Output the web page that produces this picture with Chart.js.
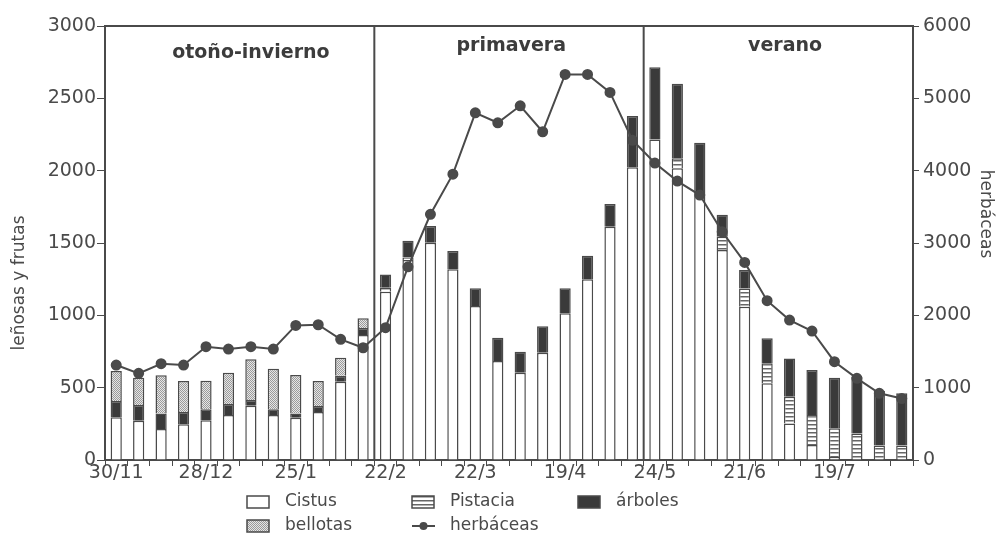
<!DOCTYPE html>
<html>
<head>
<meta charset="utf-8">
<script src="https://cdn.jsdelivr.net/npm/chart.js@4.4.1/dist/chart.umd.min.js"></script>
<style>
    html, body { margin: 0; padding: 0; background: #fff; }
    #wrap { width: 1002px; height: 537px; }
</style>
</head>
<body>
<div id="wrap"><canvas id="grafico"></canvas></div>
<script>
// etiquetas del eje x (una por semana, solo algunas con texto)
var semanas = ['30/11', '', '', '', '28/12', '', '', '', '25/1', '', '', '',
    '22/2', '', '', '', '22/3', '', '', '', '19/4', '', '', '',
    '24/5', '', '', '', '21/6', '', '', '', '19/7', '', '', ''];

// leñosas y frutas (eje izquierdo)
var cistus = [295, 272, 214, 247, 274, 311, 375, 311, 292, 332, 541, 864,
    1163, 1382, 1502, 1318, 1064, 684, 603, 741, 1014, 1249, 1612, 2023,
    2216, 2016, 1831, 1451, 1059, 530, 253, 104, 20, 0, 0, 0];
var pistacia = [0, 0, 0, 0, 0, 0, 0, 0, 0, 0, 0, 0,
    28, 18, 0, 0, 0, 0, 0, 0, 0, 0, 0, 0,
    0, 69, 0, 92, 127, 138, 184, 207, 200, 184, 100, 100];
var arboles = [113, 108, 108, 85, 76, 76, 39, 39, 30, 41, 41, 48,
    92, 115, 115, 126, 123, 161, 146, 184, 173, 163, 157, 355,
    498, 515, 362, 152, 127, 173, 265, 311, 348, 392, 378, 361];
var bellotas = [207, 189, 263, 214, 198, 216, 282, 281, 265, 173, 125, 67,
    0, 0, 0, 0, 0, 0, 0, 0, 0, 0, 0, 0,
    0, 0, 0, 0, 0, 0, 0, 0, 0, 0, 0, 0];

// herbáceas (eje derecho)
var herbaceas = [1313, 1198, 1331, 1313, 1566, 1534, 1566, 1534, 1861, 1870, 1668, 1552,
    1829, 2671, 3397, 3952, 4800, 4662, 4897, 4538, 5330, 5330, 5082, 4420,
    4105, 3856, 3663, 3155, 2732, 2202, 1935, 1783, 1359, 1129, 922, 850];

var estaciones = ['otoño-invierno', 'primavera', 'verano'];

var gris = '#4a4a4a';
var negro = '#3a3a3a';
var fuente = 'DejaVu Sans';

// tramas de relleno
function trama(tipo) {
    var c = document.createElement('canvas');
    var g = c.getContext('2d');
    if (tipo == 'rayas') {
        c.width = 4; c.height = 4;
        g.fillStyle = '#fff'; g.fillRect(0, 0, 4, 4);
        g.fillStyle = '#666'; g.fillRect(0, 0, 4, 1.5);
    } else {
        // punteado fino
        c.width = 2; c.height = 2;
        g.fillStyle = '#e6e6e6'; g.fillRect(0, 0, 2, 2);
        g.fillStyle = '#9a9a9a';
        g.fillRect(0, 0, 1, 1); g.fillRect(1, 1, 1, 1);
    }
    return document.createElement('canvas').getContext('2d').createPattern(c, 'repeat');
}
var rayas = trama('rayas');
var puntos = trama('puntos');

// lineas divisorias, estaciones, leyenda y titulos
var extras = {
    id: 'extras',
    afterDraw: function (chart) {
        var ctx = chart.ctx;
        var a = chart.chartArea;
        var x = chart.scales.x;
        ctx.save();
        ctx.strokeStyle = gris;
        ctx.lineWidth = 2;
        ctx.beginPath();
        ctx.moveTo(a.left, a.top); ctx.lineTo(a.right, a.top);
        [11.5, 23.5].forEach(function (v) {
            var px = (x.getPixelForValue(Math.floor(v)) + x.getPixelForValue(Math.ceil(v))) / 2;
            ctx.moveTo(px, a.top); ctx.lineTo(px, a.bottom);
        });
        ctx.stroke();

        // nombres de estaciones
        ctx.fillStyle = '#3c3c3c';
        ctx.font = 'bold 19px "' + fuente + '"';
        ctx.textAlign = 'center';
        ctx.textBaseline = 'middle';
        ctx.fillText(estaciones[0], x.getPixelForValue(6), a.top + 27);
        ctx.fillText(estaciones[1], x.getPixelForValue(17.6), a.top + 20);
        ctx.fillText(estaciones[2], x.getPixelForValue(29.8), a.top + 20);

        // titulos de ejes
        ctx.fillStyle = gris;
        ctx.font = '17px "' + fuente + '"';
        ctx.save();
        ctx.translate(20, 283);
        ctx.rotate(-Math.PI / 2);
        ctx.fillText('leñosas y frutas', 0, 0);
        ctx.restore();
        ctx.save();
        ctx.translate(985, 214);
        ctx.rotate(Math.PI / 2);
        ctx.fillText('herbáceas', 0, 0);
        ctx.restore();

        // leyenda
        var items = [
            { t: 'Cistus', f: '#fff', x: 247, y: 502 },
            { t: 'Pistacia', f: rayas, x: 412, y: 502 },
            { t: 'árboles', f: negro, x: 578, y: 502 },
            { t: 'bellotas', f: puntos, x: 247, y: 526 },
            { t: 'herbáceas', f: null, x: 412, y: 526 }
        ];
        ctx.font = '17px "' + fuente + '"';
        ctx.textAlign = 'left';
        items.forEach(function (it) {
            if (it.f) {
                ctx.fillStyle = it.f;
                ctx.fillRect(it.x, it.y - 6, 22, 12);
                ctx.lineWidth = 1.5;
                ctx.strokeStyle = gris;
                ctx.strokeRect(it.x, it.y - 6, 22, 12);
            } else {
                ctx.strokeStyle = gris;
                ctx.lineWidth = 2;
                ctx.beginPath();
                ctx.moveTo(it.x, it.y); ctx.lineTo(it.x + 23, it.y);
                ctx.stroke();
                ctx.fillStyle = gris;
                ctx.beginPath();
                ctx.arc(it.x + 11.5, it.y, 4, 0, Math.PI * 2);
                ctx.fill();
            }
            ctx.fillStyle = gris;
            ctx.fillText(it.t, it.x + 38, it.y);
        });
        ctx.restore();
    }
};

var barra = { type: 'bar', yAxisID: 'y', order: 2, borderColor: gris, borderWidth: 1.5,
    barPercentage: 0.5, categoryPercentage: 1 };

// numeros sin separador de miles
function sinComa(v) { return String(v); }

new Chart(document.getElementById('grafico'), {
    data: {
        labels: semanas,
        datasets: [
            Object.assign({ label: 'Cistus', data: cistus, backgroundColor: '#fff' }, barra),
            Object.assign({ label: 'Pistacia', data: pistacia, backgroundColor: rayas }, barra),
            Object.assign({ label: 'árboles', data: arboles, backgroundColor: negro }, barra),
            Object.assign({ label: 'bellotas', data: bellotas, backgroundColor: puntos }, barra),
            {
                type: 'line', label: 'herbáceas', data: herbaceas, yAxisID: 'y2', order: 1,
                borderColor: gris, borderWidth: 2, pointRadius: 4.5,
                pointBackgroundColor: gris, pointBorderColor: gris, tension: 0
            }
        ]
    },
    options: {
        responsive: true,
        maintainAspectRatio: false,
        animation: false,
        layout: { padding: { top: 26, left: 0, right: 0, bottom: 0 } },
        plugins: { legend: { display: false }, tooltip: { enabled: false } },
        scales: {
            x: {
                stacked: true,
                offset: true,
                grid: { display: true, drawOnChartArea: false, tickLength: 6, color: gris, offset: true },
                border: { color: gris, width: 2 },
                ticks: { autoSkip: false, maxRotation: 0, color: gris, padding: -4,
                    font: { family: fuente, size: 19 } },
                afterFit: function (s) { s.height = 77; }
            },
            y: {
                position: 'left',
                stacked: true,
                min: 0, max: 3000,
                grid: { drawOnChartArea: false, tickLength: 8, color: gris },
                border: { color: gris, width: 2 },
                ticks: { stepSize: 500, color: gris, padding: 1, callback: sinComa,
                    font: { family: fuente, size: 19 } },
                afterFit: function (s) { s.width = 105; }
            },
            y2: {
                position: 'right',
                min: 0, max: 6000,
                grid: { drawOnChartArea: false, tickLength: 6, color: gris },
                border: { color: gris, width: 2 },
                ticks: { stepSize: 1000, color: gris, padding: 4, callback: sinComa,
                    font: { family: fuente, size: 19 } },
                afterFit: function (s) { s.width = 89; }
            }
        }
    },
    plugins: [extras]
});
</script>
</body>
</html>
